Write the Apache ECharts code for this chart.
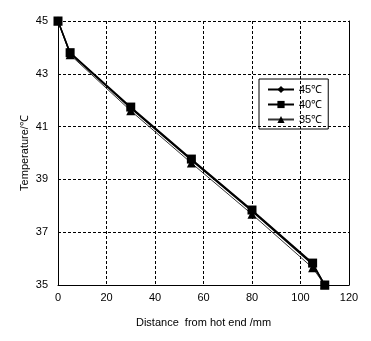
<!DOCTYPE html>
<html>
<head>
<meta charset="utf-8">
<script src="https://cdn.jsdelivr.net/npm/echarts@6/dist/echarts.min.js"></script>
<style>
  html, body { margin: 0; padding: 0; background: #fff; }
  #chart { width: 371px; height: 341px; }
</style>
</head>
<body>
<div id="chart"></div>
<script>
// Measurement positions along the rod (mm from the hot end)
const distances = [0, 5, 30, 55, 80, 105, 110];
// Temperature profiles for each hot-end setting
const temps45 = [45, 43.78, 41.70, 39.73, 37.80, 35.78, 35];
const temps40 = [45, 43.80, 41.74, 39.77, 37.84, 35.83, 35];
const temps35 = [45, 43.72, 41.60, 39.62, 37.68, 35.65, 35];
const seriesNames = ['45℃', '40℃', '35℃'];
const xTicks = { min: 0, max: 120, step: 20 };
const yTicks = { min: 35, max: 45, step: 2 };

const pairs = (ys) => distances.map((x, i) => [x, ys[i]]);
const font = 'Liberation Sans, Arial, sans-serif';
const dash = { color: '#000', type: [3, 2], width: 1 };

const chart = echarts.init(document.getElementById('chart'), null, { renderer: 'canvas' });
chart.setOption({
  animation: false,
  backgroundColor: '#fff',
  grid: { left: 58, right: 22, top: 21, bottom: 56 },
  legend: {
    orient: 'vertical',
    left: 259, top: 79,
    padding: [5, 6, 4, 8],
    itemGap: 4,
    itemWidth: 26, itemHeight: 9,
    borderColor: '#000', borderWidth: 1, borderRadius: 0,
    textStyle: { fontFamily: font, fontSize: 11, color: '#000' },
    data: seriesNames
  },
  xAxis: {
    type: 'value',
    min: xTicks.min, max: xTicks.max, interval: xTicks.step,
    name: 'Distance  from hot end /mm',
    nameLocation: 'middle', nameGap: 32,
    nameTextStyle: { fontFamily: font, fontSize: 11, color: '#000' },
    axisLine: { show: true, lineStyle: { color: '#000', width: 1 } },
    axisTick: { show: false },
    axisLabel: { fontFamily: font, fontSize: 11, color: '#000', margin: 7 },
    splitLine: { show: true, lineStyle: dash }
  },
  yAxis: [{
    type: 'value',
    min: yTicks.min, max: yTicks.max, interval: yTicks.step,
    name: 'Temperature/℃',
    nameLocation: 'middle', nameGap: 28, nameMoveOverlap: false,
    nameTextStyle: { fontFamily: font, fontSize: 11, color: '#000' },
    axisLine: { show: true, lineStyle: { color: '#000', width: 1 } },
    axisTick: { show: false },
    axisLabel: { fontFamily: font, fontSize: 11, color: '#000', margin: 10 },
    splitLine: { show: true, lineStyle: dash }
  }, {
    type: 'value',
    position: 'right',
    min: yTicks.min, max: yTicks.max, interval: yTicks.step,
    axisLine: { show: true, onZero: false, lineStyle: { color: '#000', width: 1 } },
    axisTick: { show: false },
    axisLabel: { show: false },
    splitLine: { show: false }
  }],
  series: [
    {
      name: seriesNames[0], type: 'line', data: pairs(temps45),
      symbol: 'diamond', symbolSize: 8,
      itemStyle: { color: '#000' },
      lineStyle: { color: '#000', width: 1.5 }, z: 3
    },
    {
      name: seriesNames[1], type: 'line', data: pairs(temps40),
      symbol: 'rect', symbolSize: 9,
      itemStyle: { color: '#000' },
      lineStyle: { color: '#000', width: 1.5 }, z: 4
    },
    {
      name: seriesNames[2], type: 'line', data: pairs(temps35),
      symbol: 'triangle', symbolSize: 9,
      itemStyle: { color: '#000' },
      lineStyle: { color: '#333', width: 1 }, z: 2
    }
  ]
});
</script>
</body>
</html>
